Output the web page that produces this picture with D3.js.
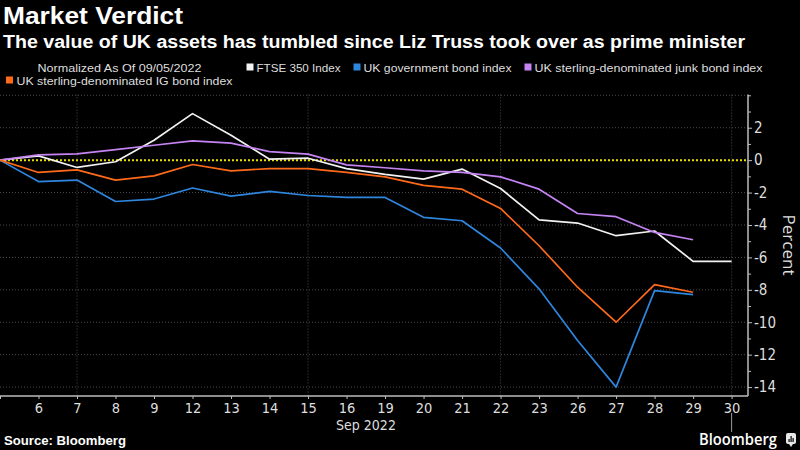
<!DOCTYPE html>
<html><head><meta charset="utf-8">
<script src="https://cdn.jsdelivr.net/npm/d3@7"></script>
<style>body{margin:0;background:#000}svg{display:block}</style>
</head><body><svg id="c" width="800" height="450"></svg>
<script>
// ---- data ----
const dates = ["5","6","7","8","9","12","13","14","15","16","19","20","21","22","23","26","27","28","29","30"];
const ftse  = [0,0.26,-0.45,-0.1,1.23,2.87,1.54,0.06,0.12,-0.52,-0.88,-1.17,-0.55,-1.75,-3.69,-3.88,-4.66,-4.37,-6.24,-6.24];
const gilts = [0,-1.32,-1.23,-2.55,-2.4,-1.72,-2.22,-1.93,-2.18,-2.3,-2.3,-3.53,-3.74,-5.42,-7.94,-11.13,-14.0,-8.05,-8.3,null];
const junk  = [0,0.33,0.39,0.65,0.92,1.19,1.05,0.53,0.37,-0.29,-0.47,-0.66,-0.76,-1.03,-1.79,-3.29,-3.49,-4.46,-4.91,null];
const ig    = [0,-0.76,-0.6,-1.23,-0.97,-0.27,-0.66,-0.52,-0.52,-0.76,-1.03,-1.56,-1.79,-2.98,-5.28,-7.84,-10.0,-7.68,-8.15,null];
const seriesNames = ["FTSE 350 Index","UK government bond index","UK sterling-denominated junk bond index","UK sterling-denominated IG bond index"];
const seriesColors = ["#f2f2f2","#2f86de","#c584f2","#ff6a1a"];
const yTickLabels = [2,0,-2,-4,-6,-8,-10,-12,-14];
const vGridDates = ["7","15","22","30"];

const svg = d3.select("#c");
svg.append("rect").attr("width",800).attr("height",450).attr("fill","#000");

const L = 0, R = 748, T = 94.5, B = 396;
const x = d3.scalePoint().domain(dates).range([0, 731.6]);
const y = d3.scaleLinear().domain([-14.55, 4.05]).range([B, T]);
const sans = "'Liberation Sans',Arial,sans-serif";
const narrow = "'Liberation Sans Narrow','DejaVu Sans Condensed',Roboto,sans-serif";

// grid
const g = svg.append("g");
g.selectAll(".hg").data([4,2,-2,-4,-6,-8,-10,-12,-14]).join("line")
  .attr("x1",L).attr("x2",R).attr("y1",d=>y(d)).attr("y2",d=>y(d))
  .attr("stroke","#4a4a4a").attr("stroke-width",1).attr("stroke-dasharray","1,2");
g.selectAll(".vg").data(vGridDates).join("line")
  .attr("x1",d=>x(d)).attr("x2",d=>x(d)).attr("y1",T).attr("y2",B)
  .attr("stroke","#4a4a4a").attr("stroke-width",1).attr("stroke-dasharray","1,2");

// zero line
g.append("line").attr("x1",L).attr("x2",R).attr("y1",y(0)).attr("y2",y(0))
  .attr("stroke","#e8e000").attr("stroke-width",2).attr("stroke-dasharray","2,2");

// lines
const allSeries = [ftse, gilts, junk, ig];
const line = d3.line().defined(d=>d.v!==null).x(d=>x(d.d)).y(d=>y(d.v));
allSeries.forEach((s,i)=>{
  svg.append("path").datum(s.map((v,j)=>({d:dates[j],v})))
    .attr("d",line).attr("fill","none").attr("stroke",seriesColors[i])
    .attr("stroke-width",1.7).attr("stroke-linejoin","round");
});

// right axis
const yAxis = d3.axisRight(y).tickValues(yTickLabels).tickSize(4).tickPadding(2).tickFormat(d=>String(d));
const ya = svg.append("g").attr("transform",`translate(${R},0)`).call(yAxis);
ya.select(".domain").remove();
ya.append("line").attr("x1",0).attr("x2",0).attr("y1",T).attr("y2",B).attr("stroke","#bdbdbd").attr("stroke-width",1.5);
ya.selectAll(".tick line").attr("stroke","#bdbdbd");
ya.selectAll(".tick text").attr("fill","#dedede").attr("font-family",narrow).attr("font-size",15);
const minor = d3.axisRight(y).tickValues([4,3,1,-1,-3,-5,-7,-9,-11,-13]).tickSize(3).tickFormat("");
const ym = svg.append("g").attr("transform",`translate(${R},0)`).call(minor);
ym.select(".domain").remove();
ym.selectAll(".tick line").attr("stroke","#bdbdbd");

// bottom axis
const xAxis = d3.axisBottom(x).tickSize(3).tickPadding(4);
const xa = svg.append("g").attr("transform",`translate(0,${B})`).call(xAxis);
xa.select(".domain").remove();
xa.append("line").attr("x1",L).attr("x2",R).attr("y1",0).attr("y2",0).attr("stroke","#bdbdbd").attr("stroke-width",1.5);
xa.selectAll(".tick line").attr("stroke","#bdbdbd");
xa.selectAll(".tick text").attr("fill","#dedede").attr("font-family",narrow).attr("font-size",14.5);
xa.selectAll(".tick").filter(d=>d==="5").select("text").remove();
svg.append("text").attr("x",366).attr("y",430).attr("text-anchor","middle")
  .attr("fill","#dedede").attr("font-family",narrow).attr("font-size",14).text("Sep 2022");
// leader line under 30
svg.append("line").attr("x1",x("30")).attr("x2",x("30")).attr("y1",413).attr("y2",432).attr("stroke","#9a9a9a").attr("stroke-width",1);

// Percent label
svg.append("text").attr("transform","translate(783,245) rotate(90)").attr("text-anchor","middle")
  .attr("fill","#dedede").attr("font-family","'Open Sans',sans-serif").attr("font-size",17).text("Percent");

// text width fitting (keeps font height, adjusts width)
function fit(sel, w){ sel.attr("textLength", w).attr("lengthAdjust","spacingAndGlyphs"); }

// titles
const t1 = svg.append("text").attr("x",3).attr("y",24).attr("fill","#fff").attr("font-family",sans).attr("font-weight","bold").attr("font-size",23).text("Market Verdict");
fit(t1,180);
const t2 = svg.append("text").attr("x",3).attr("y",47.5).attr("fill","#fff").attr("font-family",sans).attr("font-weight","bold").attr("font-size",18).text("The value of UK assets has tumbled since Liz Truss took over as prime minister");
fit(t2,742);

// legend
const norm = svg.append("text").attr("x",37.5).attr("y",72).attr("fill","#dedede").attr("font-family",sans).attr("font-size",11.5).text("Normalized As Of 09/05/2022");
fit(norm,164);
const legItems = [
  {name:seriesNames[0], color:seriesColors[0], sx:246.5, tx:256.5, ty:72, w:84},
  {name:seriesNames[1], color:seriesColors[1], sx:353.5, tx:363.5, ty:72, w:148},
  {name:seriesNames[2], color:seriesColors[2], sx:524.5, tx:534.5, ty:72, w:228},
  {name:seriesNames[3], color:seriesColors[3], sx:6, tx:16.5, ty:85, w:216}
];
legItems.forEach(it=>{
  svg.append("rect").attr("x",it.sx).attr("y",it.ty-8.5).attr("width",7).attr("height",7).attr("fill",it.color);
  const t = svg.append("text").attr("x",it.tx).attr("y",it.ty).attr("fill","#dedede").attr("font-family",sans).attr("font-size",11.5).text(it.name);
  fit(t,it.w);
});

// footer
const src = svg.append("text").attr("x",4).attr("y",445).attr("fill","#fff").attr("font-family",sans).attr("font-weight","bold").attr("font-size",12.5).text("Source: Bloomberg");
fit(src,122);
const bb = svg.append("text").attr("x",699).attr("y",445).attr("fill","#fff").attr("font-family","'Open Sans',sans-serif").attr("font-weight","600").attr("font-size",15.5).text("Bloomberg");
fit(bb,78);
const ic = svg.append("g").attr("transform","translate(786,433)");
ic.append("rect").attr("width",10).attr("height",11).attr("rx",2).attr("fill","#e8e8e8");
ic.append("path").attr("d","M3,11 L5,14 L7,11 Z").attr("fill","#e8e8e8");
[[2.5,6],[4.5,3],[6.5,5]].forEach(([bx,by])=>ic.append("rect").attr("x",bx).attr("y",by).attr("width",1.2).attr("height",9-by).attr("fill","#000"));
</script></body></html>
